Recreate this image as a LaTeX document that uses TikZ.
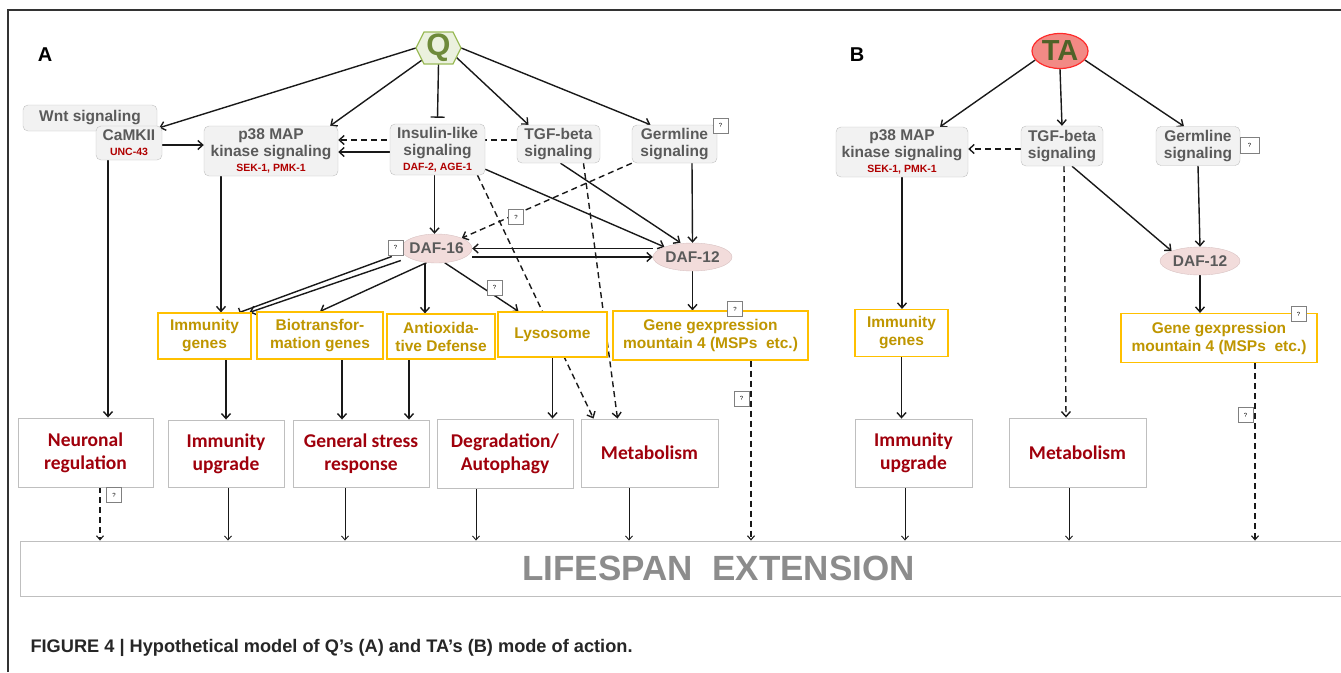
\documentclass[tikz,border=0pt]{standalone}
\usepackage{fontspec}
\setmainfont{Liberation Sans}
\newfontfamily\carl{Carlito}
\usetikzlibrary{arrows.meta,shapes.geometric,backgrounds}

\definecolor{sigfill}{HTML}{F2F2F2}
\definecolor{sigline}{HTML}{BFBFBF}
\definecolor{sigtext}{HTML}{5A5A5A}
\definecolor{genred}{HTML}{B00000}
\definecolor{goldline}{HTML}{FFC000}
\definecolor{goldtext}{HTML}{BF9600}
\definecolor{outred}{HTML}{A0000C}
\definecolor{pinkfill}{HTML}{F2DCDB}
\definecolor{pinkline}{HTML}{D8C2C2}
\definecolor{qfill}{HTML}{EBF1DE}
\definecolor{qline}{HTML}{9BBB59}
\definecolor{qtext}{HTML}{6E8A3A}
\definecolor{tafill}{HTML}{F28A85}
\definecolor{taline}{HTML}{FF2A2A}
\definecolor{tatext}{HTML}{4F6228}
\definecolor{lifetext}{HTML}{8C8C8C}

\newcommand{\genelbl}[1]{{\color{genred}\fontsize{10.5}{11}\selectfont #1}}

\begin{document}
\begin{tikzpicture}[x=1pt,y=-1pt]
\tikzset{ >={Straight Barb[length=5pt,width=9pt]},
  sig/.style={draw=sigline, fill=sigfill, rounded corners=5pt, text=sigtext, align=center, inner sep=1pt, font=\bfseries\fontsize{15.5}{17}\selectfont},
  gene/.style={draw=goldline, fill=white, line width=1.2pt, text=goldtext, align=center, inner sep=1pt, font=\bfseries\fontsize{15.5}{18}\selectfont},
  outc/.style={draw=sigline, fill=white, line width=0.9pt, text=outred, align=center, inner sep=1pt, font=\carl\bfseries\fontsize{19.5}{23}\selectfont},
  daf/.style={ellipse, draw=pinkline, fill=pinkfill, text=sigtext, inner sep=0pt, font=\bfseries\fontsize{15.5}{17}\selectfont},
  qbox/.style={draw=gray, fill=white, minimum width=15pt, minimum height=15pt, inner sep=0pt, font=\fontsize{6}{6}\selectfont},
  arr/.style={->, line width=1.4pt, black!90},
  darr/.style={->, line width=1.4pt, black!90, dash pattern=on 6pt off 4pt},
  thinarr/.style={-{Straight Barb[length=4pt,width=7pt]}, line width=0.9pt, black!90},
  thindash/.style={-{Straight Barb[length=4pt,width=7pt]}, line width=1.1pt, black!90, dash pattern=on 6pt off 4pt},
}

\useasboundingbox (0,0) rectangle (1341,672);
\draw[line width=1.6pt, black!80] (8,672) -- (8,10) -- (1341,10);

\node[font=\bfseries\fontsize{20}{20}\selectfont] (labA) at (45,55) {A};
\node[font=\bfseries\fontsize{20}{20}\selectfont] (labB) at (857,55) {B};

% panel A
\filldraw[fill=qfill, draw=qline, line width=1.2pt] (416,48) -- (424,32) -- (453,32) -- (461,48) -- (453,64) -- (424,64) -- cycle;
\node[minimum width=45pt, minimum height=32pt, inner sep=0pt, text=qtext, font=\bfseries\fontsize{31}{31}\selectfont] (Q) at (438.5,48) {Q};

\node[sig, minimum width=134pt, minimum height=26pt] (wnt) at (90,118) {Wnt signaling};
\node[sig, minimum width=66pt, minimum height=34pt] (camk) at (129,143) {CaMKII\\[-2pt]\genelbl{UNC-43}};
\node[sig, minimum width=134pt, minimum height=50pt] (p38A) at (271,151) {p38 MAP\\kinase signaling\\[-2pt]\genelbl{SEK-1, PMK-1}};
\node[sig, minimum width=95pt, minimum height=51pt] (ins) at (437.5,149.5) {Insulin-like\\signaling\\[-2pt]\genelbl{DAF-2, AGE-1}};
\node[sig, minimum width=83pt, minimum height=38pt] (tgfA) at (558.5,144) {TGF-beta\\signaling};
\node[sig, minimum width=85pt, minimum height=38pt] (germA) at (674.5,144) {Germline\\signaling};
\node[qbox] (qgermA) at (720.5,125.5) {?};

\node[daf, minimum width=71pt, minimum height=29pt] (daf16) at (436.5,248.5) {\makebox[40pt]{DAF-16}};
\node[qbox] (qdaf16) at (395.5,247.5) {?};
\node[daf, minimum width=79pt, minimum height=28pt] (daf12A) at (692.5,257) {\makebox[40pt]{DAF-12}};

\node[gene, minimum width=93pt, minimum height=46pt] (immgA) at (204.5,336) {Immunity\\genes};
\node[gene, minimum width=126pt, minimum height=47pt] (bioA) at (320,335.5) {Biotransfor-\\mation genes};
\node[gene, minimum width=108pt, minimum height=45pt] (antiA) at (441,336.5) {Antioxida-\\tive Defense};
\node[gene, minimum width=109pt, minimum height=45pt] (lysoA) at (552.5,334.5) {Lysosome};
\node[gene, minimum width=195pt, minimum height=49pt] (geneA) at (710.5,335.5) {Gene gexpression\\mountain 4 (MSPs\ \ etc.)};
\node[qbox] (qgeneA) at (735,309) {?};
\node[qbox] (qlyso) at (494.5,287.5) {?};
\node[qbox] (qgd16) at (516,217) {?};

\node[outc, minimum width=135pt, minimum height=69pt] (neurA) at (85.5,452.5) {Neuronal\\regulation};
\node[outc, minimum width=116pt, minimum height=67pt] (immuA) at (226,453.5) {Immunity\\upgrade};
\node[outc, minimum width=136pt, minimum height=67pt] (stressA) at (361,453.5) {General stress\\response};
\node[outc, minimum width=136pt, minimum height=69pt] (degA) at (505,453.5) {Degradation/\\Autophagy};
\node[outc, minimum width=137pt, minimum height=68pt] (metaA) at (649.5,453) {Metabolism};
\node[qbox] (qneur) at (114,495) {?};
\node[qbox] (qlowA) at (741.5,398.5) {?};

% panel B
\node[ellipse, draw=taline, fill=tafill, line width=1.2pt, minimum width=56pt, minimum height=35pt, inner sep=0pt, text=tatext, font=\bfseries\fontsize{29}{29}\selectfont] (TA) at (1060,51) {\makebox[28pt]{TA}};
\node[sig, minimum width=132pt, minimum height=50pt] (p38B) at (902,152) {p38 MAP\\kinase signaling\\[-2pt]\genelbl{SEK-1, PMK-1}};
\node[sig, minimum width=82pt, minimum height=40pt] (tgfB) at (1062,146) {TGF-beta\\signaling};
\node[sig, minimum width=84pt, minimum height=39pt] (germB) at (1198,146) {Germline\\signaling};
\node[qbox, minimum width=19pt, minimum height=16pt] (qgermB) at (1249.5,145) {?};
\node[daf, minimum width=80pt, minimum height=28pt] (daf12B) at (1200,261) {\makebox[40pt]{DAF-12}};
\node[gene, minimum width=93pt, minimum height=47pt] (immgB) at (901.5,333) {Immunity\\genes};
\node[gene, minimum width=196pt, minimum height=49pt] (geneB) at (1219,338) {Gene gexpression\\mountain 4 (MSPs\ \ etc.)};
\node[qbox] (qgeneB) at (1298.5,314) {?};
\node[outc, minimum width=117pt, minimum height=68pt] (immuB) at (913.5,453) {Immunity\\upgrade};
\node[outc, minimum width=137pt, minimum height=69pt] (metaB) at (1077.5,452.5) {Metabolism};
\node[qbox] (qlowB) at (1245.5,415) {?};

\node[draw=sigline, fill=white, line width=0.9pt, minimum width=1397pt, minimum height=55pt, text=lifetext, font=\bfseries\fontsize{35}{35}\selectfont] (life) at (718.5,568.5) {LIFESPAN\ \ EXTENSION};
\node[anchor=west, text=black!85, font=\bfseries\fontsize{18.2}{18.2}\selectfont] (capt) at (27,648) {FIGURE 4 | Hypothetical model of Q’s (A) and TA’s (B) mode of action.};

\begin{scope}[on background layer]
% from Q
\draw[arr] (Q.west) -- ([xshift=-3pt,yshift=-2pt]camk.north east);
\draw[arr] ([xshift=6pt,yshift=4pt]Q.south west) -- ([xshift=-8pt]p38A.north east);
\draw[-{Bar[width=14pt]}, line width=1.4pt, black!90] (Q.south) -- ([yshift=6pt]ins.north);
\draw[arr] ([xshift=-5pt,yshift=7pt]Q.south east) -- ([xshift=-30pt]tgfA.north);
\draw[arr] (Q.east) -- ([xshift=-24pt]germA.north);
% signaling
\draw[arr] ([yshift=-2pt]camk.east) -- ([yshift=-2pt]camk.east -| p38A.west);
\draw[darr] ([yshift=4pt]tgfA.west) -- ([yshift=4pt]tgfA.west -| p38A.east);
\draw[arr] ([yshift=-2.5pt]ins.west) -- ([yshift=-2.5pt]ins.west -| p38A.east);
\draw[arr] ([xshift=-3pt]ins.south) -- ([xshift=-3pt]ins.south |- daf16.north);
\draw[arr] ([yshift=6pt]ins.south east) -- (daf12A.north west);
\draw[arr] ([xshift=2pt]tgfA.south) -- ([xshift=-12pt]daf12A.north);
\draw[arr] ([xshift=17.5pt]germA.south) -- (daf12A.north);
\draw[darr] (germA.south west) -- (daf16.north east);
\draw[darr] ([xshift=25pt]tgfA.south) -- ([xshift=-32pt]metaA.north);
\draw[darr] ([xshift=40pt]ins.south) -- ([xshift=-56pt]metaA.north);
\draw[arr] (daf12A.west |- daf16.east) -- (daf16.east);
\draw[arr] (daf16.east |- daf12A.west) -- (daf12A.west);
% DAF-16 targets
\draw[-{Bar[width=9pt]}, line width=1.4pt, black!90] ([xshift=-9pt,yshift=-8pt]daf16.west) -- ([xshift=35pt]immgA.north);
\draw[arr] ([yshift=-12pt]daf16.west) -- ([xshift=45pt]immgA.north);
\draw[arr] (daf16.235) -- (bioA.north);
\draw[arr] ([xshift=-16pt]antiA.north |- daf16.south) -- ([xshift=-16pt]antiA.north);
\draw[arr] (daf16.300) -- ([xshift=-34pt]lysoA.north);
\draw[arr] (daf12A.south) -- (daf12A.south |- geneA.north);
\draw[arr] ([xshift=16.5pt]immgA.north |- p38A.south) -- ([xshift=16.5pt]immgA.north);
\draw[arr] ([xshift=-21pt]camk.south) -- ([xshift=-21pt]camk.south |- neurA.north);
% genes to outcomes
\draw[arr] (immuA.north |- immgA.south) -- (immuA.north);
\draw[arr] ([xshift=-19pt]stressA.north |- bioA.south) -- ([xshift=-19pt]stressA.north);
\draw[arr] ([xshift=48pt]stressA.north |- antiA.south) -- ([xshift=48pt]stressA.north);
\draw[arr] (lysoA.south) -- (lysoA.south |- degA.north);
% from TA
\draw[arr] (TA.200) -- ([xshift=38pt]p38B.north);
\draw[arr] (TA.south) -- (tgfB.north);
\draw[arr] (TA.340) -- ([xshift=-14pt]germB.north);
\draw[darr] ([yshift=-3pt]tgfB.west) -- ([yshift=-3pt]tgfB.west -| p38B.east);
\draw[arr] (p38B.south) -- (p38B.south |- immgB.north);
\draw[darr] ([xshift=2pt]tgfB.south) -- ([xshift=-11.5pt]metaB.north);
\draw[arr] ([xshift=10pt]tgfB.south) -- (daf12B.north west);
\draw[arr] (germB.south) -- (daf12B.north);
\draw[arr] (daf12B.south) -- (daf12B.south |- geneB.north);
\draw[arr] (immgB.south) -- (immgB.south |- immuB.north);
% into lifespan
\foreach \n/\s in {immuA/2pt, stressA/-16pt, degA/-29pt, metaA/-20.5pt, immuB/-8.5pt, metaB/-8.5pt}
  \draw[thinarr] ([xshift=\s]\n.south) -- ([xshift=\s]\n.south |- life.north);
\foreach \n/\s in {neurA/14.5pt, geneA/40.5pt, geneB/36pt}
  \draw[thindash] ([xshift=\s]\n.south) -- ([xshift=\s]\n.south |- life.north);
\end{scope}

\end{tikzpicture}
\end{document}
